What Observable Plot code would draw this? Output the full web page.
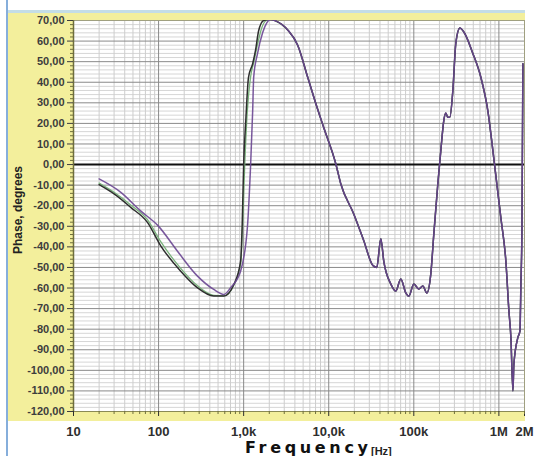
<!DOCTYPE html>
<html><head><meta charset="utf-8">
<script src="https://cdn.jsdelivr.net/npm/d3@7"></script>
<script src="https://cdn.jsdelivr.net/npm/@observablehq/plot@0.6"></script>
<style>
html,body{margin:0;padding:0;background:#fff;}
#chart{width:539px;height:456px;position:relative;}
</style></head><body><div id="chart"></div>
<script>
// ---- data ----
const blackFreq  = [20, 30, 47, 74, 106, 181, 285, 445, 586, 769, 922, 960, 1000, 1060, 1140, 1276, 1380, 1500, 1718, 2050];
const blackPhase = [-9.8, -14.3, -20.8, -28.1, -39.5, -51.7, -59.8, -63.9, -63.9, -58.2, -46.8, -30, 0, 21.5, 42.4, 49, 55.6, 65, 70, 70.5];

const greenFreq  = [20, 30, 47, 74, 106, 181, 285, 445, 586, 769, 922, 975, 1030, 1100, 1200, 1320, 1450, 1620, 1850, 2150];
const greenPhase = [-9, -13.5, -19.6, -26.8, -37.5, -50.3, -58.8, -63.6, -63.8, -58.5, -48, -28, 0, 25, 42, 50, 58, 66, 70, 70.5];

const purpleFreq  = [20, 36, 61, 99, 166, 285, 445, 586, 703, 922, 1106, 1208, 1276, 1312, 1457, 1670, 2080];
const purplePhase = [-7, -13.5, -22.4, -29.8, -42, -54.1, -60.7, -63.1, -59.8, -51.7, -30.6, 0, 26, 42.4, 54, 64, 70.5];

// above ~2.3 kHz the three traces coincide
const sharedFreq  = [2377, 3296, 4319, 5662, 7030, 8730, 12080, 13840, 19680, 25820, 32950, 36720, 40930, 44380, 53580, 61370, 70300, 80520, 87330, 100000, 114500, 127600, 142300, 158500, 171900, 191600, 207700, 225400, 237800, 251000, 265300, 287700, 311900, 347600, 387400, 494100, 613800, 742500, 849900, 1056000, 1208000, 1311000, 1384000, 1462000, 1500000, 1673000, 1767000, 1815000, 1865000, 1916000];
const sharedPhase = [69.8, 65.4, 58, 42.4, 29.8, 18, 0.5, -9.3, -24, -37, -49, -50, -36, -47, -58, -61.5, -55.6, -62.4, -64, -58, -60.5, -59, -62.4, -53, -33.7, -9.3, 6.8, 21.5, 25, 23, 23, 36, 59, 66.3, 64.4, 54, 42.4, 26, 6.8, -26, -47, -71, -84, -110, -97, -84, -81, -58, -32, 49];

const xTickValues = [10, 100, 1000, 10000, 100000, 1000000, 2000000];
const xTickLabels = ["10", "100", "1,0k", "10,0k", "100k", "1M", "2M"];
const yTickValues = [70, 60, 50, 40, 30, 20, 10, 0, -10, -20, -30, -40, -50, -60, -70, -80, -90, -100, -110, -120];
const yTitle = "Phase, degrees";
const xTitle = "Frequency";
const xUnit = "[Hz]";

// ---- build tables ----
const toRows = (fs, ps) => fs.map((f, i) => ({f, p: ps[i]}));
const shared = toRows(sharedFreq, sharedPhase);
const black = toRows(blackFreq, blackPhase).concat(shared);
const green = toRows(greenFreq, greenPhase).concat(shared);
const purple = toRows(purpleFreq, purplePhase).concat(shared);

const minorX = [];
for (const d of [10, 100, 1000, 10000, 100000, 1000000]) for (let k = 2; k <= 9; k++) if (d * k <= 2000000) minorX.push(d * k);
const minorY = d3.range(-120, 71, 2).filter(v => v % 10 !== 0);

const font = "'Liberation Sans', Arial, sans-serif";
const fmtY = d => d.toFixed(2).replace(".", ",");
const fmtX = d => xTickLabels[xTickValues.indexOf(d)] ?? "";

const chart = Plot.plot({
  width: 539, height: 456,
  marginLeft: 73, marginRight: 15, marginTop: 20, marginBottom: 45,
  style: {background: "transparent", fontFamily: font, overflow: "visible"},
  x: {type: "log", domain: [10, 2000000], axis: null},
  y: {domain: [-120, 70], axis: null},
  marks: [
    Plot.frame({fill: "white", stroke: "none"}),
    Plot.ruleY(minorY, {stroke: "#d6d6d6", strokeWidth: 1}),
    Plot.ruleX(minorX, {stroke: "#cdcdcd", strokeWidth: 1}),
    Plot.ruleY(yTickValues, {stroke: "#8a8a8a", strokeWidth: 1}),
    Plot.ruleX(xTickValues.slice(0, 6), {stroke: "#8a8a8a", strokeWidth: 1}),
    Plot.ruleY([0], {stroke: "#111", strokeWidth: 2}),
    Plot.frame({stroke: "#a0a080", strokeWidth: 1}),
    Plot.ruleX([10], {stroke: "#6e6e3c", strokeWidth: 1.5}),
    Plot.ruleY([-120], {stroke: "#8a8a55", strokeWidth: 1}),
    Plot.axisY({ticks: yTickValues, tickFormat: fmtY, tickSize: 6, tickPadding: 3, fontSize: 11, fontWeight: "bold", color: "#3d3d3d", label: null}),
    Plot.axisY({ticks: minorY, tickFormat: () => "", tickSize: 3, color: "#6e6e3c", label: null}),
    Plot.axisX({ticks: xTickValues, tickFormat: fmtX, tickSize: 5, tickPadding: 10, fontSize: 13, fontWeight: "bold", color: "#2e2e2e", label: null}),
    Plot.axisX({ticks: minorX, tickFormat: () => "", tickSize: 3, color: "#6e6e3c", label: null}),
    Plot.line(green, {x: "f", y: "p", stroke: "#79b27b", strokeWidth: 1.3, curve: "monotone-x", clip: true}),
    Plot.line(black, {x: "f", y: "p", stroke: "#2e2e2e", strokeWidth: 1.5, curve: "monotone-x", clip: true}),
    Plot.line(purple, {x: "f", y: "p", stroke: "#6a4692", strokeWidth: 1.5, strokeOpacity: 0.9, curve: "monotone-x", clip: true})
  ]
});

document.getElementById("chart").appendChild(chart);
const svg = d3.select(chart);
// panel background decoration
const bg = svg.insert("g", ":first-child");
bg.append("rect").attr("x", 8).attr("y", 12).attr("width", 517).attr("height", 409).attr("fill", "#f3ef9c");
bg.append("rect").attr("x", 8).attr("y", 10).attr("width", 517).attr("height", 3).attr("fill", "#c4dde6");
bg.append("rect").attr("x", 6).attr("y", 0).attr("width", 2).attr("height", 456).attr("fill", "#86aedb");

svg.append("text")
  .attr("transform", "translate(19,210) rotate(-90)")
  .attr("text-anchor", "middle").attr("dominant-baseline", "middle")
  .attr("font-family", font).attr("font-weight", "bold").attr("font-size", 12)
  .attr("fill", "#222").text(yTitle);

svg.append("text")
  .attr("x", 245).attr("y", 453).attr("text-anchor", "start")
  .attr("font-family", "'DejaVu Sans', sans-serif").attr("font-weight", "bold").attr("font-size", 16)
  .attr("textLength", 123).attr("lengthAdjust", "spacing")
  .attr("fill", "#111").text(xTitle);
svg.append("text")
  .attr("x", 371).attr("y", 455).attr("text-anchor", "start")
  .attr("font-family", font).attr("font-weight", "bold").attr("font-size", 11)
  .attr("fill", "#222").text(xUnit);
</script>
</body></html>
